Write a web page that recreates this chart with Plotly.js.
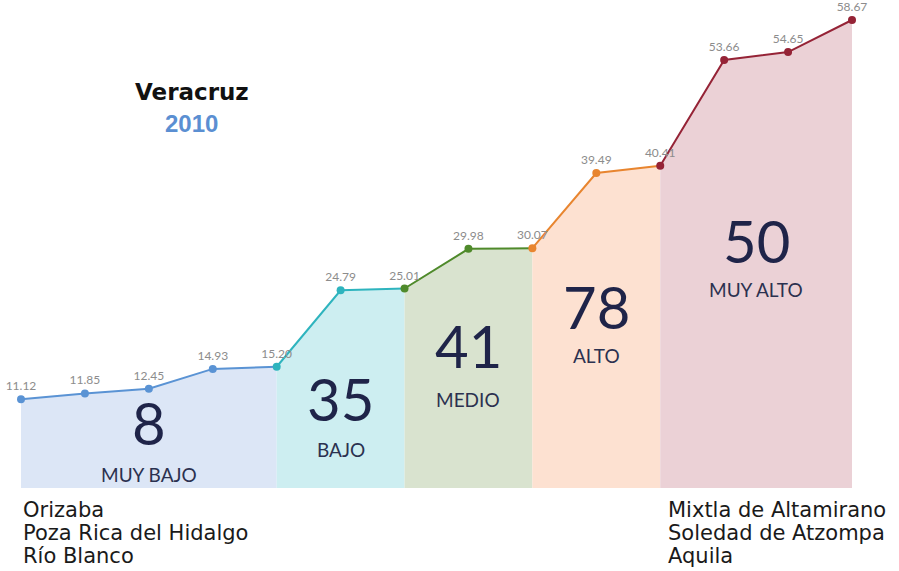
<!DOCTYPE html>
<html>
<head>
<meta charset="utf-8">
<script src="https://cdn.plot.ly/plotly-3.0.1.min.js"></script>
<style>html,body{margin:0;padding:0;background:#fff;}#chart{width:899px;height:571px;}</style>
</head>
<body>
<div id="chart"></div>
<script>
// ---- data ----
const values = [11.12, 11.85, 12.45, 14.93, 15.20, 24.79, 25.01, 29.98, 30.07, 39.49, 40.41, 53.66, 54.65, 58.67];
const groupNames = ["MUY BAJO", "BAJO", "MEDIO", "ALTO", "MUY ALTO"];
const groupCounts = [8, 35, 41, 78, 50];
const groupStart = [0, 4, 6, 8, 10];
const groupEnd = [4, 6, 8, 10, 13];
const lowestNames = ["Orizaba", "Poza Rica del Hidalgo", "Río Blanco"];
const highestNames = ["Mixtla de Altamirano", "Soledad de Atzompa", "Aquila"];
const titleState = "Veracruz";
const titleYear = "2010";

// ---- styles ----
const lineColors = ["#5a93d4", "#2eb4be", "#4f8a2b", "#e8852f", "#952336"];
const fillColors = ["#dce6f6", "#cdeef1", "#d9e3cf", "#fde1d1", "#ebd1d6"];
const W = 899, H = 571;
const px = x => x / W;
const py = y => 1 - y / H;
// vertical pixel centers for big numbers and labels
const numY = [422, 398, 345, 306, 240];
const lblY = [474, 449, 399, 355, 289];

const traces = [];
for (let g = 0; g < groupNames.length; g++) {
  const xs = [], ys = [];
  for (let i = groupStart[g]; i <= groupEnd[g]; i++) { xs.push(i); ys.push(values[i]); }
  traces.push({
    x: xs, y: ys, type: "scatter", mode: "lines", fill: "tozeroy",
    fillcolor: fillColors[g], line: {color: lineColors[g], width: 2},
    hoverinfo: "skip", showlegend: false
  });
}
const mColors = values.map((v, i) => {
  let gi = 0;
  for (let g = 0; g < groupStart.length; g++) if (groupStart[g] <= i) gi = g;
  return lineColors[gi];
});
traces.push({
  x: values.map((v, i) => i), y: values, type: "scatter", mode: "markers+text",
  marker: {color: mColors, size: 8},
  text: values.map(v => v.toFixed(2)), textposition: "top center",
  textfont: {family: "Lato", size: 12, color: "#8c8c8c"},
  cliponaxis: false, showlegend: false, hoverinfo: "x+y"
});

const annotations = [];
for (let g = 0; g < groupNames.length; g++) {
  const mid = (groupStart[g] + groupEnd[g]) / 2;
  annotations.push({xref: "x", yref: "paper", x: mid, y: py(numY[g]), xanchor: "center", yanchor: "middle",
    text: String(groupCounts[g]), showarrow: false,
    font: {family: "Lato", size: 58, color: "#1f2449"}});
  annotations.push({xref: "x", yref: "paper", x: mid, y: py(lblY[g]), xanchor: "center", yanchor: "middle",
    text: groupNames[g], showarrow: false,
    font: {family: "Lato", size: 19, color: "#2b3150"}});
}
annotations.push({xref: "paper", yref: "paper", x: px(192), y: py(92), xanchor: "center", yanchor: "middle",
  text: "<b>" + titleState + "</b>", showarrow: false,
  font: {family: "DejaVu Sans", size: 23, color: "#111"}});
annotations.push({xref: "paper", yref: "paper", x: px(191), y: py(123), xanchor: "center", yanchor: "middle",
  text: "<b>" + titleYear + "</b>", showarrow: false,
  font: {family: "Liberation Sans", size: 24, color: "#5b8fd2"}});
const lineYs = [510, 533, 556];
lowestNames.forEach((n, k) => annotations.push({xref: "paper", yref: "paper", x: px(21), y: py(lineYs[k]),
  xanchor: "left", yanchor: "middle", text: n, showarrow: false,
  font: {family: "DejaVu Sans", size: 21, color: "#1a1a1a"}}));
highestNames.forEach((n, k) => annotations.push({xref: "paper", yref: "paper", x: px(666), y: py(lineYs[k]),
  xanchor: "left", yanchor: "middle", text: n, showarrow: false,
  font: {family: "DejaVu Sans", size: 21, color: "#1a1a1a"}}));

// axis ranges from pixel geometry: index 0 at x=21, index 13 at x=852; y=0 at 488, 58.67 at 20
const xStep = (852 - 21) / 13;
const yScale = (488 - 20) / 58.67;
const layout = {
  width: W, height: H,
  margin: {l: 0, r: 0, t: 0, b: 0},
  paper_bgcolor: "#ffffff", plot_bgcolor: "#ffffff",
  xaxis: {range: [-21 / xStep, 13 + (W - 852) / xStep], visible: false, fixedrange: true},
  yaxis: {range: [-(H - 488) / yScale, 58.67 + 20 / yScale], visible: false, fixedrange: true},
  annotations: annotations,
  showlegend: false
};
Plotly.newPlot("chart", traces, layout, {displayModeBar: false, staticPlot: true});
</script>
</body>
</html>
